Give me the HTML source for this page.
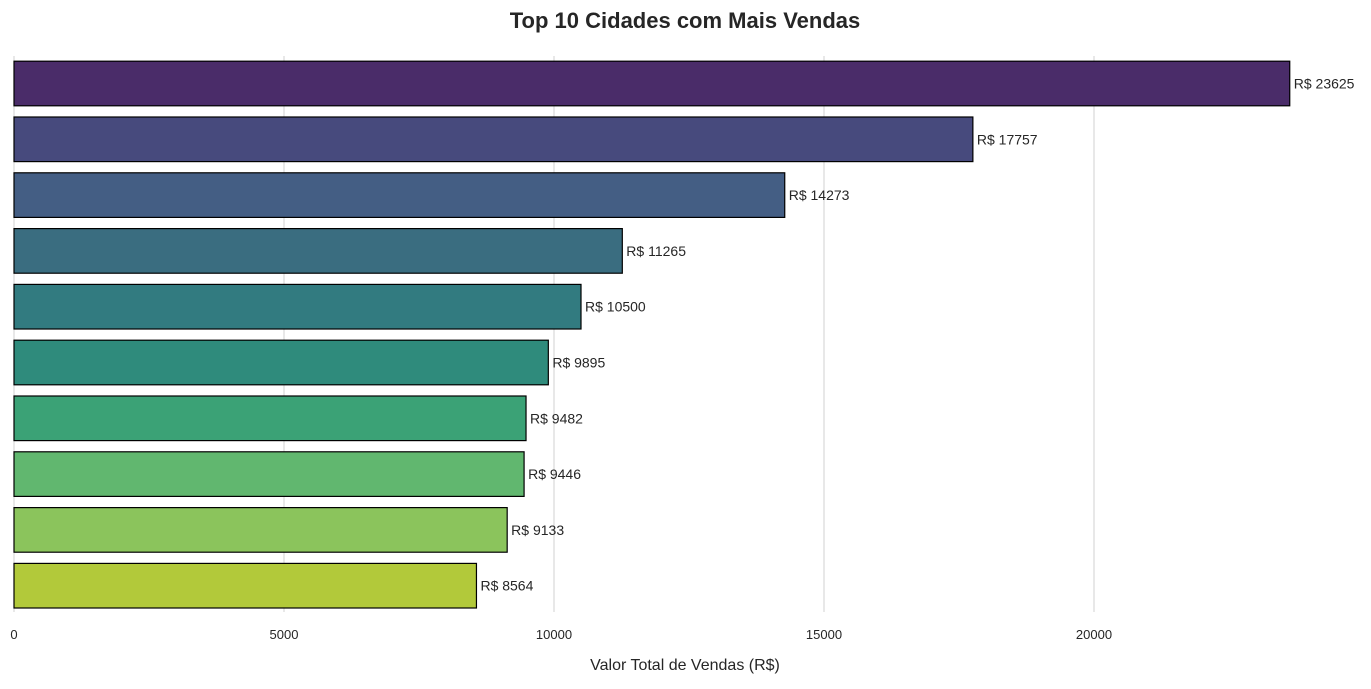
<!DOCTYPE html>
<html><head><meta charset="utf-8"><style>
body{margin:0;background:#fff;font-family:"Liberation Sans",sans-serif;}
</style></head><body>
<svg id="chart" width="1371" height="684" xmlns="http://www.w3.org/2000/svg" font-family="Liberation Sans, sans-serif">
<text x="685" y="28" text-anchor="middle" font-size="22" font-weight="bold" fill="#262626">Top 10 Cidades com Mais Vendas</text>
<g id="grid"></g><g id="bars"></g><g id="ticks"></g>
<text x="685" y="670" text-anchor="middle" font-size="16" fill="#262626">Valor Total de Vendas (R$)</text>
</svg>
<script>
const values=[23625,17757,14273,11265,10500,9895,9482,9446,9133,8564];
const colors=["#4a2c69","#474a7d","#445e84","#3a6d80","#327b80","#2f8b7c","#3ba276","#61b76f","#8bc45c","#b2c93a"];
const ticks=[0,5000,10000,15000,20000];
const NS="http://www.w3.org/2000/svg";
const x=v=>14+v*0.054;
const y=i=>83.5+i*55.8;
const bh=44.6;
const grid=document.getElementById('grid'),bars=document.getElementById('bars'),tk=document.getElementById('ticks');
ticks.forEach(t=>{
 const l=document.createElementNS(NS,'line');
 
 
 l.setAttribute('x1',x(t));l.setAttribute('x2',x(t));l.setAttribute('y1',56);l.setAttribute('y2',612);
 l.setAttribute('stroke','#d0d0d0');l.setAttribute('stroke-width','1');grid.appendChild(l);
 const tx=document.createElementNS(NS,'text');
 
 
 tx.setAttribute('x',x(t));tx.setAttribute('y',639);tx.setAttribute('text-anchor','middle');
 tx.setAttribute('font-size','13');tx.setAttribute('fill','#262626');tx.textContent=t;tk.appendChild(tx);
});
values.forEach((v,i)=>{
 const r=document.createElementNS(NS,'rect');
 
 
 r.setAttribute('x',x(0));r.setAttribute('y',y(i)-bh/2);r.setAttribute('width',x(v)-x(0));r.setAttribute('height',bh);
 r.setAttribute('fill',colors[i]);r.setAttribute('stroke','#000');r.setAttribute('stroke-width','1.2');bars.appendChild(r);
 const t=document.createElementNS(NS,'text');
 
 
 t.setAttribute('x',x(v)+4);t.setAttribute('y',y(i)+5);t.setAttribute('font-size','14');t.setAttribute('fill','#262626');
 t.textContent='R$ '+v;bars.appendChild(t);
});
</script>
</body></html>
